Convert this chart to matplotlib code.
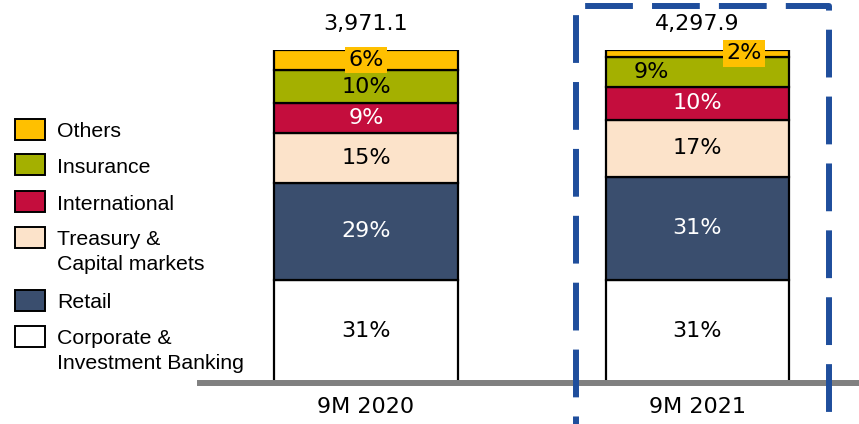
import matplotlib
matplotlib.use("Agg")
import matplotlib.pyplot as plt
from matplotlib.lines import Line2D
from matplotlib.patches import Rectangle

categories = ["9M 2020", "9M 2021"]
totals = [3971.1, 4297.9]

# stacked shares, bottom to top
segments = ["Corporate &\nInvestment Banking", "Retail", "Treasury &\nCapital markets",
            "International", "Insurance", "Others"]
corporate = [31, 31]
retail = [29, 31]
treasury = [15, 17]
international = [9, 10]
insurance = [10, 9]
others = [6, 2]
values = [corporate, retail, treasury, international, insurance, others]

colors = ["#FFFFFF", "#3A4E6E", "#FCE3CA", "#C40D3D", "#A4B000", "#FFC000"]
text_colors = ["black", "white", "black", "white", "black", "black"]

W, H = 859, 424
fig = plt.figure(figsize=(W / 100, H / 100), dpi=100)


def fx(px):
    return px / W


def fy(py):
    return 1 - py / H


ax = fig.add_axes([fx(200), fy(383), fx(859) - fx(200), fy(50) - fy(383)])
x = [0, 1]
bottom = [0, 0]
for i, (vals, col) in enumerate(zip(values, colors)):
    ax.bar(x, vals, bottom=bottom, width=0.555, color=col, edgecolor="black",
           linewidth=1.6, zorder=1)
    for j in range(2):
        yc = bottom[j] + vals[j] / 2
        dx = 0
        box = None
        if segments[i] == "Others":
            box = dict(boxstyle="square,pad=0.15", fc="#FFC000", ec="none")
            if j == 1:
                dx = 0.14
        if segments[i] == "Insurance" and j == 1:
            dx = -0.14
        ax.text(x[j] + dx, yc, f"{vals[j]}%", ha="center", va="center",
                fontsize=16, color=text_colors[i], bbox=box, zorder=3,
                family="DejaVu Sans")
    bottom = [b + v for b, v in zip(bottom, vals)]

for j in range(2):
    ax.annotate(f"{totals[j]:,.1f}", (x[j], 100), xytext=(0, 18.5),
                textcoords="offset points", ha="center", va="center",
                fontsize=16, family="DejaVu Sans")

ax.set_xlim(-0.5008, 1.4872)
ax.set_ylim(0, 100)
ax.set_yticks([])
ax.set_xticks(x)
ax.set_xticklabels(categories, fontsize=16, family="DejaVu Sans")
ax.tick_params(axis="x", length=0, pad=10)
for s in ("top", "left", "right"):
    ax.spines[s].set_visible(False)
ax.spines["bottom"].set_color("#808080")
ax.spines["bottom"].set_linewidth(4.3)
ax.spines["bottom"].set_zorder(4)
ax.patch.set_alpha(0)

# legend, drawn by hand
leg_y = [336, 300, 237, 202, 165, 129]
for lab, col, yc in zip(segments, colors, leg_y):
    fig.add_artist(Rectangle((fx(15), fy(yc + 10.5)), fx(30), fy(yc - 10.5) - fy(yc + 10.5),
                             transform=fig.transFigure, fc=col, ec="black", lw=1.4))
    for k, line in enumerate(lab.split("\n")):
        fig.text(fx(57), fy(yc + 8 + 25 * k), line, ha="left", va="baseline",
                 fontsize=15.3, family="Liberation Sans")

# dashed highlight frame around 9M 2021
blue = "#1F4E9C"
ls = (9.67, (8, 3.2))
fig.add_artist(Line2D([fx(576), fx(576)], [fy(6), fy(440)], transform=fig.transFigure,
                      color=blue, lw=4.3, linestyle=ls))
fig.add_artist(Line2D([fx(576), fx(829), fx(829)], [fy(6), fy(6), fy(440)],
                      transform=fig.transFigure, color=blue, lw=4.3, linestyle=ls,
                      solid_joinstyle="round", dash_joinstyle="round"))

fig.savefig("out.png", dpi=100)
